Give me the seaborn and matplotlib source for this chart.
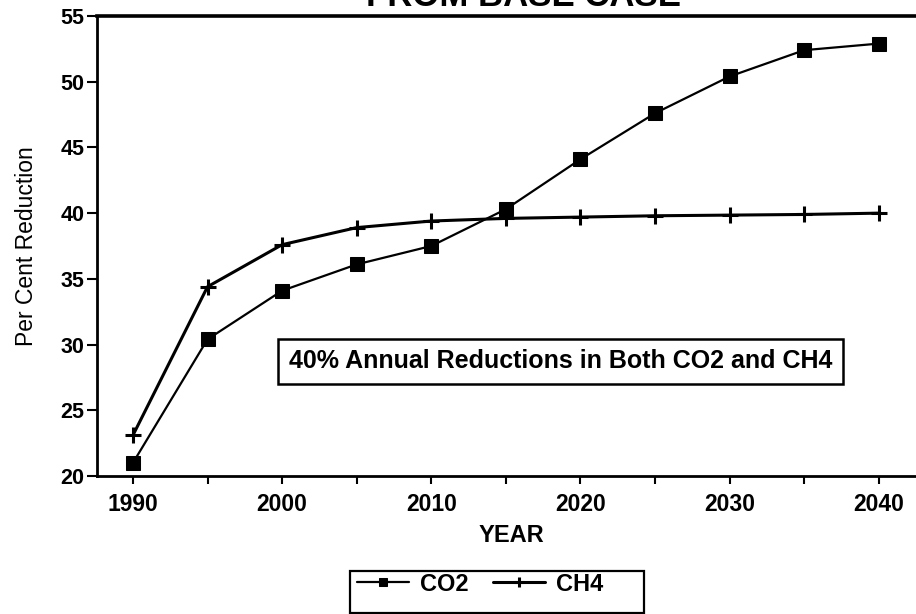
import matplotlib
matplotlib.use("Agg")
import matplotlib.pyplot as plt
from matplotlib.patches import Rectangle
from matplotlib.ticker import MultipleLocator
import pandas as pd
import seaborn as sns

# Projected per cent reduction from the base case
years = [1990, 1995, 2000, 2005, 2010, 2015, 2020, 2025, 2030, 2035, 2040]
co2 = [21.0, 30.4, 34.1, 36.1, 37.5, 40.3, 44.1, 47.6, 50.4, 52.4, 52.9]
ch4 = [23.1, 34.4, 37.6, 38.9, 39.4, 39.6, 39.7, 39.8, 39.85, 39.9, 40.0]
series_names = ["CO2", "CH4"]
x_tick_labels = ["1990", "2000", "2010", "2020", "2030", "2040"]
y_ticks = [20, 25, 30, 35, 40, 45, 50, 55]

df = pd.DataFrame({
    "YEAR": years * 2,
    "value": co2 + ch4,
    "gas": [series_names[0]] * len(years) + [series_names[1]] * len(years),
})

sns.set_theme(style="ticks")
plt.rcParams["font.family"] = ["Liberation Sans", "DejaVu Sans"]
plt.rcParams["text.color"] = "black"
plt.rcParams["axes.labelcolor"] = "black"

fig = plt.figure(figsize=(9.16, 6.14), dpi=100)
W, H = 916, 614
ax = fig.add_axes([97 / W, 1 - 476 / H, (925 - 97) / W, (476 - 16) / H])

sns.lineplot(data=df, x="YEAR", y="value", hue="gas",
             palette={"CO2": "black", "CH4": "black"},
             linewidth=1.8, ax=ax, legend=False)

# marker styling: filled squares for CO2, plus signs for CH4
lines = ax.get_lines()
lines[0].set_marker("s")
lines[0].set_markersize(9.5)
lines[0].set_markerfacecolor("black")
lines[0].set_markeredgecolor("black")
lines[0].set_linewidth(1.6)
lines[1].set_marker("+")
lines[1].set_markersize(11)
lines[1].set_markeredgewidth(2.2)
lines[1].set_markeredgecolor("black")
lines[1].set_linewidth(2.2)

ax.set_xlim(1987.59, 2043.1)
ax.set_ylim(20, 55)
ax.set_xticks([int(t) for t in x_tick_labels])
ax.set_xticklabels(x_tick_labels)
ax.xaxis.set_minor_locator(MultipleLocator(5))
ax.set_yticks(y_ticks)
ax.set_yticklabels([str(v) for v in y_ticks])

for lab in ax.get_xticklabels():
    lab.set_fontsize(16.5)
    lab.set_fontweight("bold")
for lab in ax.get_yticklabels():
    lab.set_fontsize(15.5)
    lab.set_fontweight("bold")

ax.tick_params(axis="x", which="both", direction="out", length=6, width=1.5,
               pad=6, colors="black")
ax.tick_params(axis="y", which="both", direction="out", length=7, width=1.5,
               pad=2, colors="black")

ax.set_xlabel("YEAR", fontsize=17, fontweight="bold", labelpad=6)
ax.set_ylabel("Per Cent Reduction", fontsize=16.5, labelpad=16)

for side in ["left", "bottom"]:
    ax.spines[side].set_linewidth(2.0)
    ax.spines[side].set_color("black")
ax.spines["top"].set_visible(True)
ax.spines["top"].set_linewidth(2.6)
ax.spines["top"].set_color("black")
ax.spines["right"].set_visible(False)

# boxed annotation inside the plot
ax.text(2018.67, 28.75, "40% Annual Reductions in Both CO2 and CH4",
        ha="center", va="center", fontsize=18, fontweight="bold",
        bbox=dict(boxstyle="square,pad=0.42", facecolor="white",
                  edgecolor="black", linewidth=1.8))

# title, mostly above the top edge of the page
fig.text(524 / W, 1 - 6 / H, "FROM BASE CASE", ha="center", va="baseline",
         fontsize=25, fontweight="bold")

# legend below the axis title
leg = ax.legend(handles=lines, labels=series_names, ncol=2, frameon=False,
                loc="upper left", bbox_to_anchor=(352 / W, 1 - 568 / H),
                bbox_transform=fig.transFigure, prop=dict(size=17, weight="bold"),
                handlelength=2.2, handletextpad=0.5, columnspacing=1.0,
                markerscale=0.6, borderaxespad=0, borderpad=0.2)
fig.add_artist(Rectangle((350 / W, 1 - 613 / H), (644 - 350) / W, (613 - 571) / H,
                         transform=fig.transFigure, fill=False,
                         edgecolor="black", linewidth=1.6))

fig.savefig("out.png", dpi=100)
